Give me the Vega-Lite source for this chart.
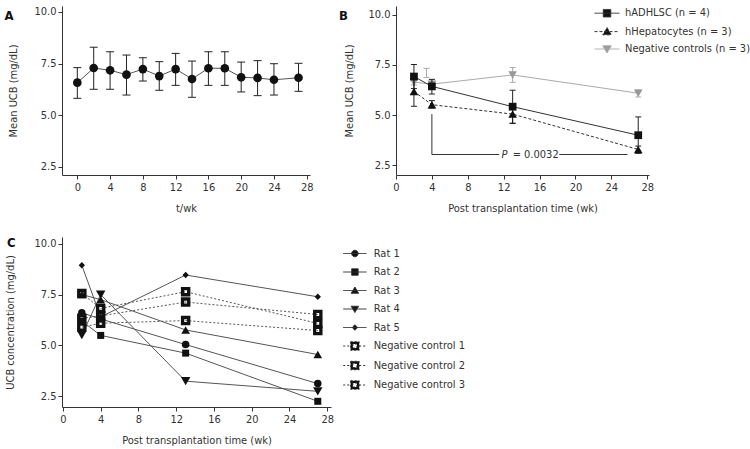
{
  "$schema": "https://vega.github.io/schema/vega-lite/v6.json",
  "padding": {"left": 4, "top": 5, "right": 4, "bottom": 4},
  "background": "white",
  "config": {
    "font": "DejaVu Sans Condensed, DejaVu Sans, sans-serif",
    "view": {"stroke": null},
    "axis": {"grid": false, "domainColor": "#333", "tickColor": "#333", "labelColor": "#333", "titleColor": "#333", "labelFontSize": 11, "titleFontSize": 11, "titleFontWeight": "normal", "tickSize": 4, "labelPadding": 2, "labelFlush": false, "labelOverlap": false},
    "legend": {"labelFontSize": 11, "labelColor": "#333", "padding": 0, "offset": 0, "symbolStrokeWidth": 1},
    "title": {"fontSize": 13, "fontWeight": "bold", "color": "#111", "anchor": "start", "frame": "group", "offset": 0, "baseline": "middle"}
  },
  "datasets": {
    "a": [
      {"t": 0, "mean": 6.57, "lo": 5.81, "hi": 7.30},
      {"t": 2, "mean": 7.28, "lo": 6.25, "hi": 8.29},
      {"t": 4, "mean": 7.17, "lo": 6.25, "hi": 8.07},
      {"t": 6, "mean": 6.96, "lo": 5.97, "hi": 7.91},
      {"t": 8, "mean": 7.23, "lo": 6.65, "hi": 7.78},
      {"t": 10, "mean": 6.89, "lo": 6.20, "hi": 7.59},
      {"t": 12, "mean": 7.23, "lo": 6.44, "hi": 7.99},
      {"t": 14, "mean": 6.75, "lo": 5.86, "hi": 7.62},
      {"t": 16, "mean": 7.27, "lo": 6.44, "hi": 8.07},
      {"t": 18, "mean": 7.27, "lo": 6.44, "hi": 8.07},
      {"t": 20, "mean": 6.83, "lo": 6.12, "hi": 7.57},
      {"t": 22, "mean": 6.80, "lo": 5.94, "hi": 7.64},
      {"t": 24, "mean": 6.71, "lo": 5.97, "hi": 7.49},
      {"t": 27, "mean": 6.81, "lo": 6.15, "hi": 7.51}
    ],
    "b": [
      {"group": "hADHLSC (n = 4)", "t": 2, "mean": 6.92, "lo": 6.32, "hi": 7.52},
      {"group": "hADHLSC (n = 4)", "t": 4, "mean": 6.43, "lo": 6.05, "hi": 6.78},
      {"group": "hADHLSC (n = 4)", "t": 13, "mean": 5.42, "lo": 4.60, "hi": 6.24},
      {"group": "hADHLSC (n = 4)", "t": 27, "mean": 4.0, "lo": 3.10, "hi": 4.91},
      {"group": "hHepatocytes (n = 3)", "t": 2, "mean": 6.18, "lo": 5.44, "hi": 6.92},
      {"group": "hHepatocytes (n = 3)", "t": 4, "mean": 5.52, "lo": 5.35, "hi": 5.72},
      {"group": "hHepatocytes (n = 3)", "t": 13, "mean": 5.05, "lo": 4.58, "hi": 5.52},
      {"group": "hHepatocytes (n = 3)", "t": 27, "mean": 3.29, "lo": 3.12, "hi": 3.46},
      {"group": "Negative controls (n = 3)", "t": 2, "mean": 6.64, "lo": 6.50, "hi": 6.78},
      {"group": "Negative controls (n = 3)", "t": 4, "mean": 6.54, "lo": 6.32, "hi": 6.76},
      {"group": "Negative controls (n = 3)", "t": 13, "mean": 7.0, "lo": 6.63, "hi": 7.37},
      {"group": "Negative controls (n = 3)", "t": 27, "mean": 6.09, "lo": 5.90, "hi": 6.25}
    ],
    "bx": [
      {"t": 3.4, "lo": 6.87, "hi": 7.33}
    ],
    "bracket": [
      {"x": 4, "x2": 4, "y": 5.05, "y2": 3.04},
      {"x": 4, "x2": 11.5, "y": 3.04, "y2": 3.04},
      {"x": 18.2, "x2": 25.8, "y": 3.04, "y2": 3.04}
    ],
    "c": [
      {"series": "Rat 1", "t": 2, "value": 6.6}, {"series": "Rat 1", "t": 4, "value": 6.3}, {"series": "Rat 1", "t": 13, "value": 5.04}, {"series": "Rat 1", "t": 27, "value": 3.12},
      {"series": "Rat 2", "t": 2, "value": 6.2}, {"series": "Rat 2", "t": 4, "value": 5.49}, {"series": "Rat 2", "t": 13, "value": 4.62}, {"series": "Rat 2", "t": 27, "value": 2.25},
      {"series": "Rat 3", "t": 2, "value": 7.5}, {"series": "Rat 3", "t": 4, "value": 7.25}, {"series": "Rat 3", "t": 13, "value": 5.76}, {"series": "Rat 3", "t": 27, "value": 4.55},
      {"series": "Rat 4", "t": 2, "value": 5.5}, {"series": "Rat 4", "t": 4, "value": 7.5}, {"series": "Rat 4", "t": 13, "value": 3.24}, {"series": "Rat 4", "t": 27, "value": 2.74},
      {"series": "Rat 5", "t": 2, "value": 8.94}, {"series": "Rat 5", "t": 4, "value": 6.4}, {"series": "Rat 5", "t": 13, "value": 8.46}, {"series": "Rat 5", "t": 27, "value": 7.39},
      {"series": "Negative control 1", "t": 2, "value": 7.55}, {"series": "Negative control 1", "t": 4, "value": 6.82}, {"series": "Negative control 1", "t": 13, "value": 7.64}, {"series": "Negative control 1", "t": 27, "value": 6.08},
      {"series": "Negative control 2", "t": 2, "value": 6.33}, {"series": "Negative control 2", "t": 4, "value": 6.45}, {"series": "Negative control 2", "t": 13, "value": 7.13}, {"series": "Negative control 2", "t": 27, "value": 6.52},
      {"series": "Negative control 3", "t": 2, "value": 5.9}, {"series": "Negative control 3", "t": 4, "value": 6.09}, {"series": "Negative control 3", "t": 13, "value": 6.22}, {"series": "Negative control 3", "t": 27, "value": 5.73}
    ]
  },
  "columns": 2,
  "bounds": "flush",
  "spacing": {"row": 62, "column": 65},
  "resolve": {
    "scale": {"shape": "independent", "fill": "independent", "stroke": "independent", "strokeDash": "independent"},
    "legend": {"shape": "independent", "fill": "independent", "stroke": "independent", "strokeDash": "independent"}
  },
  "concat": [
    {
      "width": 248, "height": 169,
      "title": {"text": "A", "dx": -57.5, "dy": 21},
      "data": {"name": "a"},
      "encoding": {
        "x": {"field": "t", "type": "quantitative", "scale": {"domain": [-1.87, 28.4], "nice": false, "zero": false},
              "axis": {"values": [0, 4, 8, 12, 16, 20, 24, 28], "title": "t/wk", "titleY": 33.5, "titleBaseline": "middle"}}
      },
      "layer": [
        {"mark": {"type": "rule", "color": "#222", "strokeWidth": 1},
         "encoding": {"y": {"field": "lo", "type": "quantitative", "scale": {"domain": [2.09, 10.29], "nice": false, "zero": false},
                            "axis": {"values": [2.5, 5, 7.5, 10], "format": ".1f", "titleX": -49, "titleBaseline": "middle"}, "title": "Mean UCB (mg/dL)"},
                      "y2": {"field": "hi"}}},
        {"mark": {"type": "tick", "orient": "horizontal", "size": 8, "thickness": 1, "color": "#222", "opacity": 1},
         "encoding": {"y": {"field": "lo", "type": "quantitative", "title": "Mean UCB (mg/dL)"}}},
        {"mark": {"type": "tick", "orient": "horizontal", "size": 8, "thickness": 1, "color": "#222", "opacity": 1},
         "encoding": {"y": {"field": "hi", "type": "quantitative", "title": "Mean UCB (mg/dL)"}}},
        {"mark": {"type": "line", "color": "#555", "strokeWidth": 1},
         "encoding": {"y": {"field": "mean", "type": "quantitative", "title": "Mean UCB (mg/dL)"}}},
        {"mark": {"type": "point", "shape": "circle", "filled": true, "size": 75, "color": "#111", "opacity": 1},
         "encoding": {"y": {"field": "mean", "type": "quantitative", "title": "Mean UCB (mg/dL)"}}}
      ]
    },
    {
      "width": 253, "height": 169,
      "title": {"text": "B", "dx": -57, "dy": 21},
      "encoding": {
        "x": {"field": "t", "type": "quantitative", "scale": {"domain": [0, 28.2], "nice": false, "zero": false},
              "axis": {"values": [0, 4, 8, 12, 16, 20, 24, 28], "title": "Post transplantation time (wk)", "titleY": 33.5, "titleBaseline": "middle"}}
      },
      "layer": [
        {"data": {"name": "bracket"},
         "mark": {"type": "rule", "color": "#333", "strokeWidth": 1},
         "encoding": {"x": {"field": "x", "type": "quantitative", "title": "Post transplantation time (wk)"}, "x2": {"field": "x2"},
                      "y": {"field": "y", "type": "quantitative", "scale": {"domain": [2.02, 10.43], "nice": false, "zero": false},
                            "axis": {"values": [2.5, 5, 7.5, 10], "format": ".1f", "titleX": -47, "titleBaseline": "middle"}, "title": "Mean UCB (mg/dL)"},
                      "y2": {"field": "y2"}}},
        {"data": {"values": [{"label": "P", "x": 12.1, "y": 3.03}]},
         "mark": {"type": "text", "fontStyle": "italic", "fontSize": 11, "color": "#333", "align": "center", "baseline": "middle"},
         "encoding": {"x": {"field": "x", "type": "quantitative"}, "y": {"field": "y", "type": "quantitative", "title": "Mean UCB (mg/dL)"}, "text": {"field": "label"}}},
        {"data": {"values": [{"label": "= 0.0032", "x": 13.0, "y": 3.03}]},
         "mark": {"type": "text", "fontSize": 11, "color": "#333", "align": "left", "baseline": "middle"},
         "encoding": {"x": {"field": "x", "type": "quantitative"}, "y": {"field": "y", "type": "quantitative", "title": "Mean UCB (mg/dL)"}, "text": {"field": "label"}}},
        {"data": {"name": "bx"},
         "mark": {"type": "rule", "color": "#aaa", "strokeWidth": 1},
         "encoding": {"y": {"field": "lo", "type": "quantitative", "title": "Mean UCB (mg/dL)"}, "y2": {"field": "hi"}}},
        {"data": {"name": "bx"},
         "mark": {"type": "tick", "orient": "horizontal", "size": 6, "thickness": 1, "color": "#aaa", "opacity": 1},
         "encoding": {"y": {"field": "lo", "type": "quantitative", "title": "Mean UCB (mg/dL)"}}},
        {"data": {"name": "bx"},
         "mark": {"type": "tick", "orient": "horizontal", "size": 6, "thickness": 1, "color": "#aaa", "opacity": 1},
         "encoding": {"y": {"field": "hi", "type": "quantitative", "title": "Mean UCB (mg/dL)"}}},
        {"data": {"name": "b"}, "transform": [{"filter": "datum.group === 'Negative controls (n = 3)'"}],
         "mark": {"type": "rule", "color": "#aaa", "strokeWidth": 1},
         "encoding": {"y": {"field": "lo", "type": "quantitative", "title": "Mean UCB (mg/dL)"}, "y2": {"field": "hi"}}},
        {"data": {"name": "b"}, "transform": [{"filter": "datum.group === 'Negative controls (n = 3)'"}],
         "mark": {"type": "tick", "orient": "horizontal", "size": 6, "thickness": 1, "color": "#aaa", "opacity": 1},
         "encoding": {"y": {"field": "lo", "type": "quantitative", "title": "Mean UCB (mg/dL)"}}},
        {"data": {"name": "b"}, "transform": [{"filter": "datum.group === 'Negative controls (n = 3)'"}],
         "mark": {"type": "tick", "orient": "horizontal", "size": 6, "thickness": 1, "color": "#aaa", "opacity": 1},
         "encoding": {"y": {"field": "hi", "type": "quantitative", "title": "Mean UCB (mg/dL)"}}},
        {"data": {"name": "b"}, "transform": [{"filter": "datum.group === 'Negative controls (n = 3)'"}],
         "mark": {"type": "line", "color": "#aaa", "strokeWidth": 1},
         "encoding": {"y": {"field": "mean", "type": "quantitative", "title": "Mean UCB (mg/dL)"}}},
        {"data": {"name": "b"}, "transform": [{"filter": "datum.group === 'Negative controls (n = 3)'"}],
         "mark": {"type": "point", "shape": "triangle-down", "filled": true, "size": 75, "color": "#999", "opacity": 1},
         "encoding": {"y": {"field": "mean", "type": "quantitative", "title": "Mean UCB (mg/dL)"}}},
        {"data": {"name": "b"}, "transform": [{"filter": "datum.group !== 'Negative controls (n = 3)'"}],
         "mark": {"type": "rule", "color": "#222", "strokeWidth": 1},
         "encoding": {"y": {"field": "lo", "type": "quantitative", "title": "Mean UCB (mg/dL)"}, "y2": {"field": "hi"}}},
        {"data": {"name": "b"}, "transform": [{"filter": "datum.group !== 'Negative controls (n = 3)'"}],
         "mark": {"type": "tick", "orient": "horizontal", "size": 6, "thickness": 1, "color": "#222", "opacity": 1},
         "encoding": {"y": {"field": "lo", "type": "quantitative", "title": "Mean UCB (mg/dL)"}}},
        {"data": {"name": "b"}, "transform": [{"filter": "datum.group !== 'Negative controls (n = 3)'"}],
         "mark": {"type": "tick", "orient": "horizontal", "size": 6, "thickness": 1, "color": "#222", "opacity": 1},
         "encoding": {"y": {"field": "hi", "type": "quantitative", "title": "Mean UCB (mg/dL)"}}},
        {"data": {"name": "b"}, "transform": [{"filter": "datum.group === 'hHepatocytes (n = 3)'"}],
         "mark": {"type": "line", "color": "#333", "strokeWidth": 1, "strokeDash": [3, 2]},
         "encoding": {"y": {"field": "mean", "type": "quantitative", "title": "Mean UCB (mg/dL)"}}},
        {"data": {"name": "b"}, "transform": [{"filter": "datum.group === 'hADHLSC (n = 4)'"}],
         "mark": {"type": "line", "color": "#333", "strokeWidth": 1},
         "encoding": {"y": {"field": "mean", "type": "quantitative", "title": "Mean UCB (mg/dL)"}}},
        {"data": {"name": "b"}, "transform": [{"filter": "datum.group === 'hHepatocytes (n = 3)'"}],
         "mark": {"type": "point", "shape": "triangle-up", "filled": true, "size": 75, "color": "#111", "opacity": 1},
         "encoding": {"y": {"field": "mean", "type": "quantitative", "title": "Mean UCB (mg/dL)"}}},
        {"data": {"name": "b"}, "transform": [{"filter": "datum.group === 'hADHLSC (n = 4)'"}],
         "mark": {"type": "point", "shape": "square", "filled": true, "size": 60, "color": "#111", "opacity": 1},
         "encoding": {"y": {"field": "mean", "type": "quantitative", "title": "Mean UCB (mg/dL)"}}},
        {"data": {"name": "b"}, "transform": [{"filter": "false"}],
         "mark": {"type": "point", "filled": true, "size": 100, "opacity": 1, "strokeWidth": 1},
         "encoding": {
           "y": {"field": "mean", "type": "quantitative", "title": "Mean UCB (mg/dL)"},
           "shape": {"field": "group", "type": "nominal",
                     "scale": {"domain": ["hADHLSC (n = 4)", "hHepatocytes (n = 3)", "Negative controls (n = 3)"],
                               "range": ["M-2.5,0H2.5M-0.75,-0.75H0.75V0.75H-0.75Z", "M-2.5,0H2.5M0,-0.8L0.85,0.65H-0.85Z", "M-2.5,0H2.5M0,0.8L0.85,-0.65H-0.85Z"]},
                     "legend": {"title": null, "orient": "none", "legendX": 205.5, "legendY": 1.7, "symbolSize": 100, "labelOffset": 12.5, "rowPadding": 5.4, "symbolOpacity": 1}},
           "fill": {"field": "group", "type": "nominal",
                    "scale": {"domain": ["hADHLSC (n = 4)", "hHepatocytes (n = 3)", "Negative controls (n = 3)"], "range": ["#111", "#111", "#999"]},
                    "legend": {"title": null, "orient": "none", "legendX": 205.5, "legendY": 1.7, "symbolSize": 100, "labelOffset": 12.5, "rowPadding": 5.4, "symbolOpacity": 1}},
           "stroke": {"field": "group", "type": "nominal",
                      "scale": {"domain": ["hADHLSC (n = 4)", "hHepatocytes (n = 3)", "Negative controls (n = 3)"], "range": ["#333", "#333", "#aaa"]},
                      "legend": {"title": null, "orient": "none", "legendX": 205.5, "legendY": 1.7, "symbolSize": 100, "labelOffset": 12.5, "rowPadding": 5.4, "symbolOpacity": 1}},
           "strokeDash": {"field": "group", "type": "nominal",
                          "scale": {"domain": ["hADHLSC (n = 4)", "hHepatocytes (n = 3)", "Negative controls (n = 3)"], "range": [[1, 0], [3, 2], [1, 0]]},
                          "legend": {"title": null, "orient": "none", "legendX": 205.5, "legendY": 1.7, "symbolSize": 100, "labelOffset": 12.5, "rowPadding": 5.4, "symbolOpacity": 1}}
         }}
      ]
    },
    {
      "width": 269, "height": 170,
      "title": {"text": "C", "dx": -55, "dy": 16.7},
      "data": {"name": "c"},
      "encoding": {
        "x": {"field": "t", "type": "quantitative", "scale": {"domain": [-0.1, 28.4], "nice": false, "zero": false},
              "axis": {"values": [0, 4, 8, 12, 16, 20, 24, 28], "title": "Post transplantation time (wk)", "titleY": 33.3, "titleBaseline": "middle"}},
        "y": {"field": "value", "type": "quantitative", "scale": {"domain": [1.97, 10.33], "nice": false, "zero": false},
              "axis": {"values": [2.5, 5, 7.5, 10], "format": ".1f", "titleX": -51.6, "titleBaseline": "middle"}, "title": "UCB concentration (mg/dL)"}
      },
      "layer": [
        {"transform": [{"filter": "indexof(datum.series, 'Negative') === 0"}],
         "mark": {"type": "line", "color": "#555", "strokeWidth": 1, "strokeDash": [2, 2]},
         "encoding": {"detail": {"field": "series", "type": "nominal"}}},
        {"transform": [{"filter": "indexof(datum.series, 'Rat') === 0"}],
         "mark": {"type": "line", "color": "#555", "strokeWidth": 1},
         "encoding": {"detail": {"field": "series", "type": "nominal"}}},
        {"transform": [{"filter": "indexof(datum.series, 'Negative') === 0"}],
         "mark": {"type": "point", "shape": "M-1,-1H1V1H-1ZM-0.3,-0.3V0.3H0.3V-0.3Z", "filled": true, "size": 90, "color": "#111", "opacity": 1, "strokeWidth": 0}},
        {"transform": [{"filter": "datum.series === 'Rat 1'"}],
         "mark": {"type": "point", "shape": "circle", "filled": true, "size": 56, "color": "#111", "opacity": 1}},
        {"transform": [{"filter": "datum.series === 'Rat 2'"}],
         "mark": {"type": "point", "shape": "square", "filled": true, "size": 49, "color": "#111", "opacity": 1}},
        {"transform": [{"filter": "datum.series === 'Rat 3'"}],
         "mark": {"type": "point", "shape": "triangle-up", "filled": true, "size": 75, "color": "#111", "opacity": 1}},
        {"transform": [{"filter": "datum.series === 'Rat 4'"}],
         "mark": {"type": "point", "shape": "triangle-down", "filled": true, "size": 90, "color": "#111", "opacity": 1}},
        {"transform": [{"filter": "datum.series === 'Rat 5'"}],
         "mark": {"type": "point", "shape": "diamond", "filled": true, "size": 40, "color": "#111", "opacity": 1}},
        {"transform": [{"filter": "false"}],
         "mark": {"type": "point", "filled": true, "size": 100, "opacity": 1, "fill": "#111", "stroke": "#333", "strokeWidth": 1},
         "encoding": {
           "shape": {"field": "series", "type": "nominal",
                     "scale": {"domain": ["Rat 1", "Rat 2", "Rat 3", "Rat 4", "Rat 5", "Negative control 1", "Negative control 2", "Negative control 3"],
                               "range": ["M-2.33,0H2.33M-0.65,0A0.65,0.65 0 1,0 0.65,0A0.65,0.65 0 1,0 -0.65,0Z",
                                         "M-2.33,0H2.33M-0.65,-0.65H0.65V0.65H-0.65Z",
                                         "M-2.33,0H2.33M0,-0.7L0.75,0.55H-0.75Z",
                                         "M-2.33,0H2.33M0,0.7L0.75,-0.55H-0.75Z",
                                         "M-2.33,0H2.33M0,-0.55L0.55,0L0,0.55L-0.55,0Z",
                                         "M-2.33,0H-0.85M0.85,0H2.33M-0.85,-0.85H0.85V0.85H-0.85ZM-0.4,-0.4V0.4H0.4V-0.4Z",
                                         "M-2.33,0H-0.85M0.85,0H2.33M-0.85,-0.85H0.85V0.85H-0.85ZM-0.4,-0.4V0.4H0.4V-0.4Z",
                                         "M-2.33,0H-0.85M0.85,0H2.33M-0.85,-0.85H0.85V0.85H-0.85ZM-0.4,-0.4V0.4H0.4V-0.4Z"]},
                     "legend": {"title": null, "orient": "none", "legendX": 287.4, "legendY": 11, "symbolSize": 100, "labelOffset": 13.3, "rowPadding": 6.5, "symbolOpacity": 1}},
           "strokeDash": {"field": "series", "type": "nominal",
                          "scale": {"domain": ["Rat 1", "Rat 2", "Rat 3", "Rat 4", "Rat 5", "Negative control 1", "Negative control 2", "Negative control 3"],
                                    "range": [[1, 0], [1, 0], [1, 0], [1, 0], [1, 0], [2, 2], [2, 2], [2, 2]]},
                          "legend": {"title": null, "orient": "none", "legendX": 287.4, "legendY": 11, "symbolSize": 100, "labelOffset": 13.3, "rowPadding": 6.5, "symbolOpacity": 1}}
         }}
      ]
    }
  ]
}
